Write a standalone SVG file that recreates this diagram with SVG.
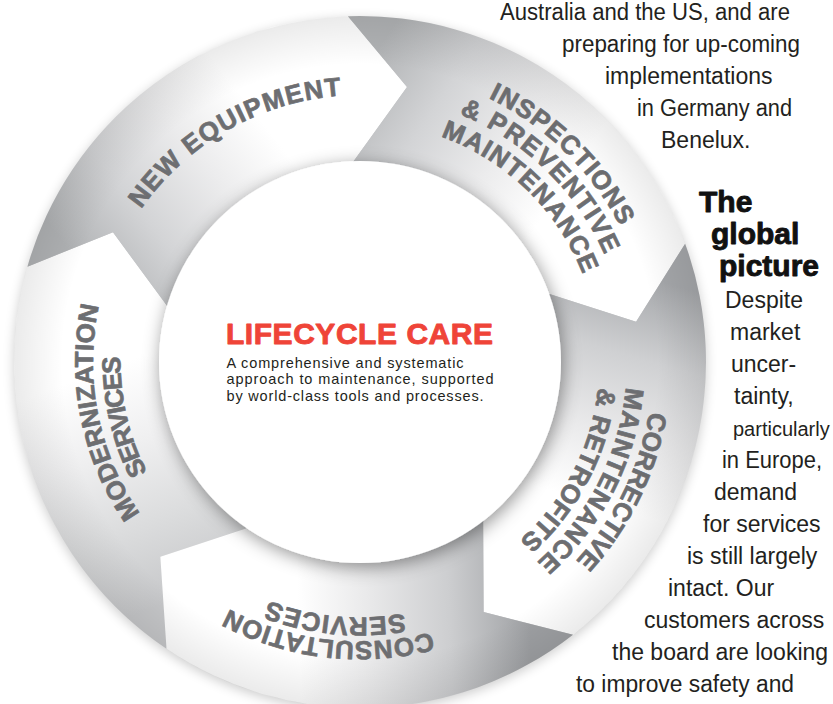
<svg xmlns="http://www.w3.org/2000/svg" xmlns:xlink="http://www.w3.org/1999/xlink" width="833" height="704" viewBox="0 0 833 704">
  <defs>
    <style>
      .lbl { font-family: 'Liberation Sans', Arial, sans-serif; font-weight: 700; font-size: 26px; fill: #6d6e71; stroke: #6d6e71; stroke-width: 0.7px; stroke-linejoin: round; }
      .body { font-family: 'Liberation Sans', Arial, sans-serif; font-size: 23px; fill: #231f20; }
      .narrow { font-size: 20px; }
      .head { font-family: 'Liberation Sans', Arial, sans-serif; font-weight: 700; font-size: 30px; fill: #111; stroke: #111; stroke-width: 0.9px; stroke-linejoin: round; }
      .title { font-family: 'Liberation Sans', Arial, sans-serif; font-weight: 700; font-size: 30px; fill: #ef4438; stroke: #ef4438; stroke-width: 0.9px; stroke-linejoin: round; }
      .sub { font-family: 'Liberation Sans', Arial, sans-serif; font-size: 14.5px; fill: #231f20; }
    </style>

    <!-- arrow segment fills: grey tail fading to a white head -->
    <linearGradient id="gMod" gradientUnits="userSpaceOnUse" x1="207.34" y1="588.33" x2="97.58" y2="286.75">
      <stop offset="0" stop-color="#c6c7c9"/>
      <stop offset="0.25" stop-color="#dbdcdd"/>
      <stop offset="0.5" stop-color="#efeff0"/>
      <stop offset="0.75" stop-color="#ffffff"/>
    </linearGradient>
    <linearGradient id="gNew" gradientUnits="userSpaceOnUse" x1="97.58" y1="286.75" x2="350.47" y2="89.17">
      <stop offset="0" stop-color="#b0b2b4"/>
      <stop offset="0.25" stop-color="#d3d4d6"/>
      <stop offset="0.5" stop-color="#ececed"/>
      <stop offset="0.72" stop-color="#ffffff"/>
    </linearGradient>
    <linearGradient id="gIns" gradientUnits="userSpaceOnUse" x1="350.47" y1="89.17" x2="616.54" y2="268.63">
      <stop offset="0" stop-color="#b1b3b5"/>
      <stop offset="0.25" stop-color="#d3d4d6"/>
      <stop offset="0.5" stop-color="#ececed"/>
      <stop offset="0.72" stop-color="#ffffff"/>
    </linearGradient>
    <linearGradient id="gCor" gradientUnits="userSpaceOnUse" x1="616.54" y1="268.63" x2="528.08" y2="577.13">
      <stop offset="0" stop-color="#a5a7aa"/>
      <stop offset="0.25" stop-color="#cfd0d2"/>
      <stop offset="0.5" stop-color="#eaeaeb"/>
      <stop offset="0.72" stop-color="#ffffff"/>
    </linearGradient>
    <linearGradient id="gCon" gradientUnits="userSpaceOnUse" x1="528.08" y1="577.13" x2="207.34" y2="588.33">
      <stop offset="0" stop-color="#9fa1a4"/>
      <stop offset="0.25" stop-color="#cdced0"/>
      <stop offset="0.5" stop-color="#e9e9ea"/>
      <stop offset="0.72" stop-color="#ffffff"/>
    </linearGradient>
    <!-- faint darkening towards the outer rim -->
    <radialGradient id="rim" gradientUnits="userSpaceOnUse" cx="360" cy="362" r="346">
      <stop offset="0.86" stop-color="#000" stop-opacity="0"/>
      <stop offset="1" stop-color="#000" stop-opacity="0.08"/>
    </radialGradient>

    <!-- label baselines: clockwise arcs round the hub, centred on angle 0 -->
    <path id="arc2395" d="M 479.75 154.59 A 239.5 239.5 0 0 1 479.75 569.41"/>
    <path id="arc2555" d="M 487.75 140.73 A 255.5 255.5 0 0 1 487.75 583.27"/>
    <path id="arc267" d="M 493.5 130.77 A 267 267 0 0 1 493.5 593.23"/>
    <path id="arc2795" d="M 499.75 119.95 A 279.5 279.5 0 0 1 499.75 604.05"/>
    <path id="arc2935" d="M 506.75 107.82 A 293.5 293.5 0 0 1 506.75 616.18"/>

    <filter id="ringShadow" x="-20%" y="-20%" width="140%" height="140%">
      <feGaussianBlur stdDeviation="6"/>
    </filter>
    <filter id="hubShadow" x="-30%" y="-30%" width="160%" height="160%">
      <feDropShadow dx="2" dy="4" stdDeviation="9" flood-color="#000" flood-opacity="0.42"/>
    </filter>
  </defs>

  <rect width="833" height="704" fill="#ffffff"/>

  <!-- soft halo under the ring -->
  <circle cx="360" cy="365" r="346" fill="#000" opacity="0.2" filter="url(#ringShadow)"/>
  <circle cx="360" cy="362" r="345" fill="#c8c9cb"/>

  <g id="modernization">
    <path fill="url(#gMod)" d="M 166.52 648.85 A 346 346 0 0 1 27.40 266.63 L 112.98 232.31 L 167.75 306.87 A 200 200 0 0 0 248.16 527.81 L 160.32 556.86 Z"/>
    <text class="lbl" transform="rotate(168.8 360 362)"><textPath href="#arc267" xlink:href="#arc267" startOffset="50%" text-anchor="middle" textLength="218">MODERNIZATION</textPath></text>
    <text class="lbl" transform="rotate(167 360 362)"><textPath href="#arc2395" xlink:href="#arc2395" startOffset="50%" text-anchor="middle" textLength="120">SERVICES</textPath></text>
  </g>

  <g id="new-equipment">
    <path fill="url(#gNew)" d="M 27.40 266.63 A 346 346 0 0 1 347.92 16.21 L 407.01 86.99 L 353.02 162.12 A 200 200 0 0 0 167.75 306.87 L 112.98 232.31 Z"/>
    <text class="lbl" transform="rotate(240.45 360 362)"><textPath href="#arc267" xlink:href="#arc267" startOffset="50%" text-anchor="middle" textLength="238">NEW EQUIPMENT</textPath></text>
  </g>

  <g id="inspections">
    <path fill="url(#gIns)" d="M 347.92 16.21 A 346 346 0 0 1 685.13 243.66 L 636.08 321.72 L 547.94 293.60 A 200 200 0 0 0 353.02 162.12 L 407.01 86.99 Z"/>
    <text class="lbl" transform="rotate(314.2 360 362)"><textPath href="#arc2935" xlink:href="#arc2935" startOffset="50%" text-anchor="middle" textLength="187">INSPECTIONS</textPath></text>
    <text class="lbl" transform="rotate(314.1 360 362)"><textPath href="#arc267" xlink:href="#arc267" startOffset="50%" text-anchor="middle" textLength="207">&amp; PREVENTIVE</textPath></text>
    <text class="lbl" transform="rotate(314.1 360 362)"><textPath href="#arc2395" xlink:href="#arc2395" startOffset="50%" text-anchor="middle" textLength="204">MAINTENANCE</textPath></text>
  </g>

  <g id="corrective">
    <path fill="url(#gCor)" d="M 685.13 243.66 A 346 346 0 0 1 573.02 634.65 L 483.62 612.12 L 483.13 519.60 A 200 200 0 0 0 547.94 293.60 L 636.08 321.72 Z"/>
    <text class="lbl" transform="rotate(26.2 360 362)"><textPath href="#arc2935" xlink:href="#arc2935" startOffset="50%" text-anchor="middle" textLength="169">CORRECTIVE</textPath></text>
    <text class="lbl" transform="rotate(27 360 362)"><textPath href="#arc267" xlink:href="#arc267" startOffset="50%" text-anchor="middle" textLength="201">MAINTENANCE</textPath></text>
    <text class="lbl" transform="rotate(27.2 360 362)"><textPath href="#arc2395" xlink:href="#arc2395" startOffset="50%" text-anchor="middle" textLength="176">&amp; RETROFITS</textPath></text>
  </g>

  <g id="consultation">
    <path fill="url(#gCon)" d="M 573.02 634.65 A 346 346 0 0 1 166.52 648.85 L 160.32 556.86 L 248.16 527.81 A 200 200 0 0 0 483.13 519.60 L 483.62 612.12 Z"/>
    <text class="lbl" transform="rotate(96.6 360 362)"><textPath href="#arc2795" xlink:href="#arc2795" startOffset="50%" text-anchor="middle" textLength="209">CONSULTATION</textPath></text>
    <text class="lbl" transform="rotate(95.5 360 362)"><textPath href="#arc2555" xlink:href="#arc2555" startOffset="50%" text-anchor="middle" textLength="138">SERVICES</textPath></text>
  </g>

  <!-- rim shading over the whole ring -->
  <circle cx="360" cy="362" r="346" fill="url(#rim)"/>

  <g id="lifecycle-care">
    <circle cx="360" cy="362" r="201" fill="#ffffff" filter="url(#hubShadow)"/>
    <text class="title" x="226" y="343.5" textLength="267">LIFECYCLE CARE</text>
    <text class="sub" x="226.5" y="367.5" textLength="237">A comprehensive and systematic</text>
    <text class="sub" x="226.5" y="384" textLength="267">approach to maintenance, supported</text>
    <text class="sub" x="226.5" y="400.5" textLength="257">by world-class tools and processes.</text>
  </g>

  <g id="article-text">
    <text class="body" x="500" y="19.5" textLength="290" lengthAdjust="spacingAndGlyphs">Australia and the US, and are</text>
    <text class="body" x="562" y="51.5" textLength="238" lengthAdjust="spacingAndGlyphs">preparing for up-coming</text>
    <text class="body" x="605" y="83.5">implementations</text>
    <text class="body" x="637" y="115.5" textLength="155" lengthAdjust="spacingAndGlyphs">in Germany and</text>
    <text class="body" x="661" y="147.5">Benelux.</text>
    <text class="head" x="699" y="211.5">The</text>
    <text class="head" x="711" y="243.5">global</text>
    <text class="head" x="719" y="275.5">picture</text>
    <text class="body" x="725" y="307.5">Despite</text>
    <text class="body" x="730" y="339.5">market</text>
    <text class="body" x="731" y="371.5">uncer-</text>
    <text class="body" x="734" y="403.5">tainty,</text>
    <text class="body narrow" x="733" y="435.5">particularly</text>
    <text class="body" x="722" y="467.5" textLength="100" lengthAdjust="spacingAndGlyphs">in Europe,</text>
    <text class="body" x="714" y="499.5">demand</text>
    <text class="body" x="703" y="531.5">for services</text>
    <text class="body" x="687" y="563.5">is still largely</text>
    <text class="body" x="668" y="595.5">intact. Our</text>
    <text class="body" x="644" y="627.5">customers across</text>
    <text class="body" x="612" y="659.5">the board are looking</text>
    <text class="body" x="576" y="691.5" textLength="218" lengthAdjust="spacingAndGlyphs">to improve safety and</text>
  </g>
</svg>
